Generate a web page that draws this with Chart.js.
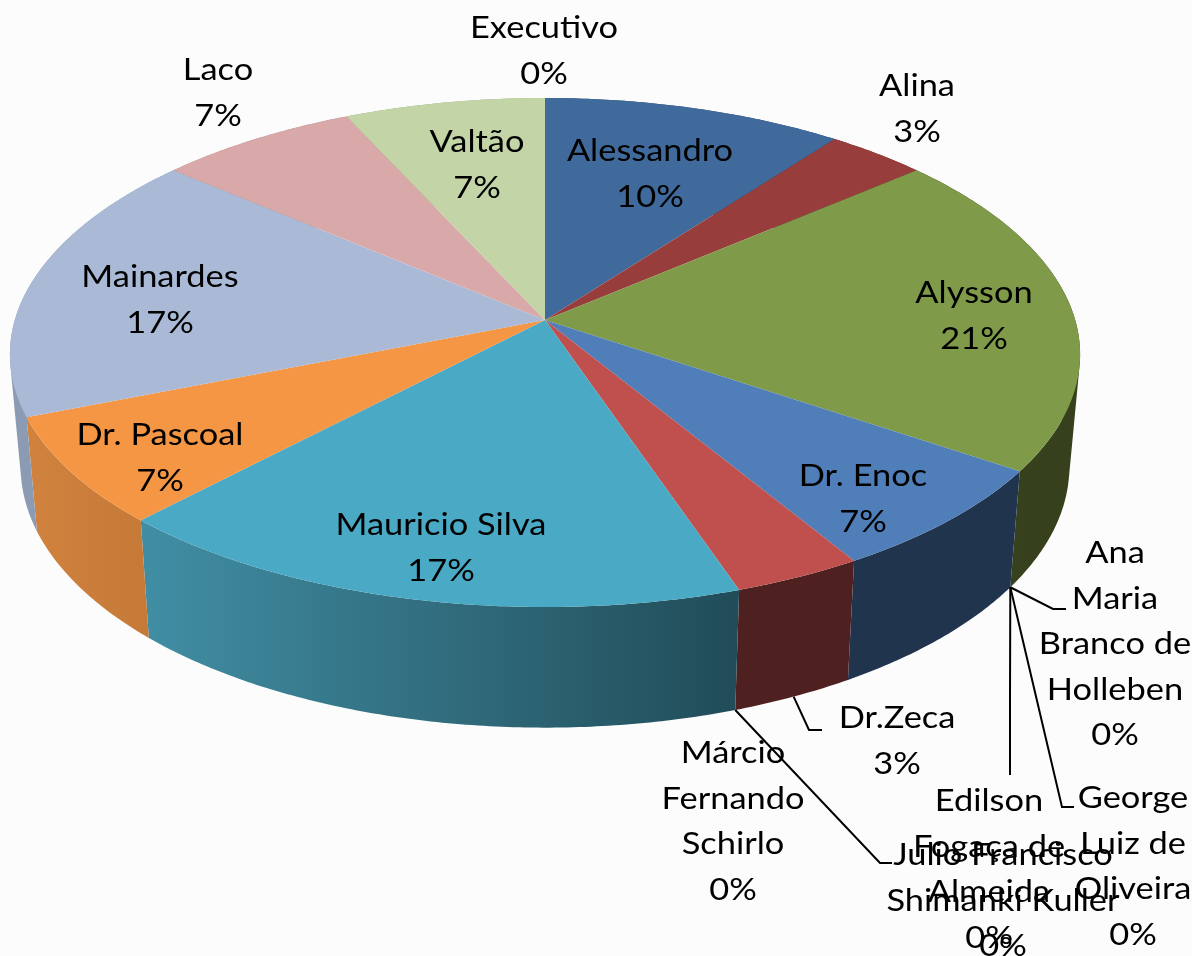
<!DOCTYPE html>
<html>
<head>
<meta charset="utf-8">
<title>Pizza</title>
<script src="https://cdn.jsdelivr.net/npm/chart.js@4"></script>
<style>
  html, body { margin: 0; padding: 0; background: #fcfcfc; }
  #wrap { width: 1192px; height: 956px; }
</style>
</head>
<body>
<div id="wrap"><canvas id="pizza" width="1192" height="956"></canvas></div>
<script>
const categories = ["Alessandro", "Alina", "Alysson", "Ana Maria Branco de Holleben", "Edilson Fogaça de Almeida",
  "George Luiz de Oliveira", "Dr. Enoc", "Dr.Zeca", "Julio Francisco Shimanki Kuller", "Márcio Fernando Schirlo",
  "Mauricio Silva", "Dr. Pascoal", "Mainardes", "Laco", "Valtão", "Executivo"];
const values = [3, 1, 6, 0, 0, 0, 2, 1, 0, 0, 5, 2, 5, 2, 2, 0];

const topColors = ["#3f6a9b", "#973e3c", "#7f9a49", "#4f7eb9", "#4f7eb9", "#4f7eb9", "#4f7eb9", "#bf504e",
  "#bf504e", "#bf504e", "#4aa9c4", "#f59645", "#a9b9d6", "#d9a9a9", "#c3d5a7", "#c3d5a7"];
// left and right colour of each slice's side wall
const wallLeft = ["#2c4a6e", "#6a2b2a", "#3a4220", "#20344e", "#20344e", "#20344e", "#20344e", "#4e2120",
  "#4e2120", "#4e2120", "#418ea4", "#d0823e", "#8c9bb4", "#b08a8a", "#9aa986", "#9aa986"];
const wallRight = ["#2c4a6e", "#6a2b2a", "#36401c", "#20344e", "#20344e", "#20344e", "#20344e", "#4e2120",
  "#4e2120", "#4e2120", "#214c58", "#c67a38", "#8c9bb4", "#b08a8a", "#9aa986", "#9aa986"];

// wrapped names and where each label block sits on the page
const labelLines = {
  0: ["Alessandro"], 1: ["Alina"], 2: ["Alysson"], 3: ["Ana", "Maria", "Branco de", "Holleben"],
  4: ["Edilson", "Fogaça de", "Almeida"], 5: ["George", "Luiz de", "Oliveira"], 6: ["Dr. Enoc"], 7: ["Dr.Zeca"],
  8: ["Julio Francisco", "Shimanki Kuller"], 9: ["Márcio", "Fernando", "Schirlo"], 10: ["Mauricio Silva"],
  11: ["Dr. Pascoal"], 12: ["Mainardes"], 13: ["Laco"], 14: ["Valtão"], 15: ["Executivo"]
};
const labelSpots = {
  0: [650, 151], 1: [917, 86], 2: [974, 293], 3: [1115, 553], 4: [989, 801], 5: [1133, 798], 6: [863, 476],
  7: [897, 718], 8: [1003, 855], 9: [733, 753], 10: [441, 525], 11: [160, 435], 12: [160, 277], 13: [218, 70],
  14: [477, 142], 15: [544, 28]
};
// leader lines: slice index, where on the slice's rim, then the elbow and end
const leaders = [
  { slice: 3, at: 0, elbow: [1053, 609], end: [1066, 609] },
  { slice: 4, at: 0, elbow: [1010, 700], end: [1010, 775] },
  { slice: 5, at: 0, elbow: [1062, 807], end: [1074, 807] },
  { slice: 7, at: 0.5, elbow: [809, 730], end: [822, 730] },
  { slice: 8, at: 0, elbow: [880, 863], end: [892, 863] }
];

const total = values.reduce((a, b) => a + b, 0);

// perspective tilt of the disc, the bottom face is the same disc pushed down
function topPoint(a) {
  const u = Math.cos(a), v = Math.sin(a);
  return [545 + 530.2 * u / (1 - 0.135 * v), 320 + 250.35 * v / (1 - 0.1277 * v)];
}
function bottomPoint(a) {
  const p = topPoint(a);
  return [545 + 0.98 * (p[0] - 545), 430.6 + 1.035 * (p[1] - 320)];
}
function rim(fn, a0, a1) {
  const pts = [];
  const n = Math.max(2, Math.ceil((a1 - a0) / 0.01));
  for (let i = 0; i <= n; i++) pts.push(fn(a0 + (a1 - a0) * i / n));
  return pts;
}

const tiltedPie = {
  id: "tiltedPie",
  beforeDatasetDraw(chart) {
    const ctx = chart.ctx;
    const arcs = chart.getDatasetMeta(0).data;

    // side walls first, as small quads so the silhouette between the two rims gets filled
    arcs.forEach((arc, i) => {
      if (!values[i]) return;
      const top = rim(topPoint, arc.startAngle, arc.endAngle);
      const bot = rim(bottomPoint, arc.startAngle, arc.endAngle);
      const xs = top.concat(bot).map(p => p[0]);
      const g = ctx.createLinearGradient(Math.min(...xs), 0, Math.max(...xs), 0);
      g.addColorStop(0, wallLeft[i]);
      g.addColorStop(1, wallRight[i]);
      ctx.beginPath();
      for (let j = 0; j < top.length - 1; j++) {
        let q = [top[j], top[j + 1], bot[j + 1], bot[j]];
        let area = 0;
        q.forEach((p, k) => { const n = q[(k + 1) % 4]; area += p[0] * n[1] - n[0] * p[1]; });
        if (area < 0) q.reverse();
        q.forEach((p, k) => k ? ctx.lineTo(p[0], p[1]) : ctx.moveTo(p[0], p[1]));
        ctx.closePath();
      }
      ctx.fillStyle = g;
      ctx.fill();
    });

    // top face
    arcs.forEach((arc, i) => {
      if (!values[i]) return;
      ctx.beginPath();
      ctx.moveTo(545, 320);
      rim(topPoint, arc.startAngle, arc.endAngle).forEach(p => ctx.lineTo(p[0], p[1]));
      ctx.closePath();
      ctx.fillStyle = topColors[i];
      ctx.fill();
    });
    return false;
  },
  afterDraw(chart) {
    const ctx = chart.ctx;
    const arcs = chart.getDatasetMeta(0).data;

    ctx.save();
    ctx.strokeStyle = "#000";
    ctx.lineWidth = 2;
    leaders.forEach(l => {
      const arc = arcs[l.slice];
      const s = bottomPoint(arc.startAngle + (arc.endAngle - arc.startAngle) * l.at);
      ctx.beginPath();
      ctx.moveTo(s[0], s[1]);
      ctx.lineTo(l.elbow[0], l.elbow[1]);
      ctx.lineTo(l.end[0], l.end[1]);
      ctx.stroke();
    });

    ctx.fillStyle = "#000";
    ctx.font = '31px Lato';
    ctx.textAlign = "center";
    ctx.textBaseline = "middle";
    categories.forEach((name, i) => {
      const lines = labelLines[i].concat(Math.round(values[i] / total * 100) + "%");
      const [x, y] = labelSpots[i];
      lines.forEach((t, j) => {
        ctx.save();
        ctx.translate(x, y + j * 45.5);
        ctx.scale(1.11, 1); // reference text is a bit stretched sideways
        ctx.fillText(t, 0, 0);
        ctx.restore();
      });
    });
    ctx.restore();
  }
};

new Chart(document.getElementById("pizza"), {
  type: "pie",
  data: { labels: categories, datasets: [{ data: values, backgroundColor: topColors, borderWidth: 0 }] },
  options: {
    responsive: false,
    animation: false,
    plugins: { legend: { display: false }, tooltip: { enabled: false } }
  },
  plugins: [tiltedPie]
});
</script>
</body>
</html>
